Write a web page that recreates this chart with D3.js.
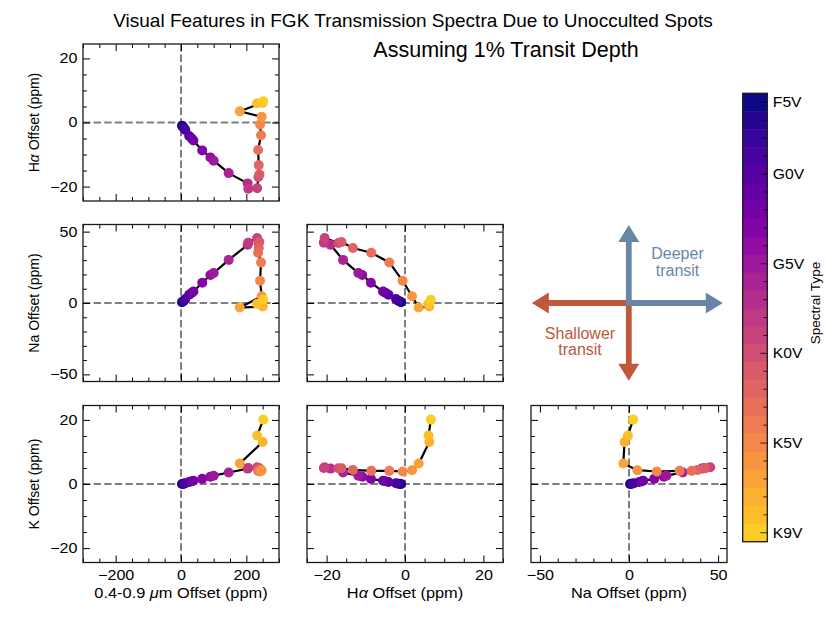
<!DOCTYPE html>
<html>
<head>
<meta charset="utf-8">
<script src="https://cdn.jsdelivr.net/npm/d3@7"></script>
<style>
  body { margin: 0; background: #fff; }
  text { font-family: "Liberation Sans", Arial, Helvetica, sans-serif; }
</style>
</head>
<body>
<svg width="830" height="625"></svg>
<script>
// one entry per spectral type, F5V (index 0) to K9V (index 24)
var typeIndex = d3.range(25);
var cbarTicks = [0, 4, 9, 14, 19, 24];
var cbarLabels = ['F5V', 'G0V', 'G5V', 'K0V', 'K5V', 'K9V'];

// offsets in ppm
var broad = [3, 6, 9, 13, 25, 33, 38, 65, 90, 100, 146, 204, 206, 233, 237, 240, 238, 236, 245, 242, 247, 180, 250, 233, 252];
var halpha = [-1.0, -1.3, -1.7, -2.3, -4.2, -5.0, -5.6, -8.7, -10.9, -11.9, -15.8, -19.0, -20.7, -20.5, -17.0, -16.2, -13.3, -8.6, -4.0, -0.6, 1.8, 3.5, 6.2, 6.0, 6.6];
var sodium = [0.6, 1.0, 1.6, 2.8, 5.8, 7.2, 8.0, 14.2, 19.6, 21.0, 30.2, 40.8, 42.3, 45.6, 42.0, 42.8, 38.5, 35.2, 28.4, 15.6, 4.7, -3.2, -2.5, -0.6, 2.3];
var potassium = [0.0, 0.05, 0.1, 0.25, 0.6, 0.85, 1.0, 1.6, 2.3, 2.6, 3.6, 4.8, 5.0, 5.2, 4.9, 4.9, 4.4, 4.1, 4.1, 3.9, 4.3, 6.4, 13.1, 15.1, 20.1];

var series = { broad: broad, halpha: halpha, sodium: sodium, potassium: potassium };

var axisInfo = {
    broad:     { xdom: [-300, 300], major: 200, minor: 50, label: [['0.4-0.9 ', ''], ['\u03bc', 'i'], ['m Offset (ppm)', '']] },
    halpha:    { xdom: [-25, 25], ydom: [-24.5, 24.5], major: 20, minor: 5, label: [['H', ''], ['\u03b1', 'i'], [' Offset (ppm)', '']] },
    sodium:    { xdom: [-55, 55], ydom: [-55, 55], major: 50, minor: 10, label: [['Na Offset (ppm)', '']] },
    potassium: { ydom: [-24.5, 24.5], major: 20, minor: 5, label: [['K Offset (ppm)', '']] }
};

var panels = [
    { row: 0, col: 0, x: 'broad', y: 'halpha' },
    { row: 1, col: 0, x: 'broad', y: 'sodium' },
    { row: 1, col: 1, x: 'halpha', y: 'sodium' },
    { row: 2, col: 0, x: 'broad', y: 'potassium' },
    { row: 2, col: 1, x: 'halpha', y: 'potassium' },
    { row: 2, col: 2, x: 'sodium', y: 'potassium' }
];

var svg = d3.select('svg');
var colLeft = [83, 307, 531],
    rowTop = [44, 224.5, 405.5],
    pw = 196,
    ph = 157,
    sx = 1.15;   // horizontal text stretch seen in the reference

var color = d3.scaleSequential(function(t) { return d3.interpolatePlasma(t * 0.9); })
    .domain([0, 24]);

function ticksBetween(dom, step) {
    var out = [];
    for (var v = Math.ceil(dom[0] / step) * step; v <= dom[1] + 1e-9; v += step) out.push(v);
    return out;
}

function addLabel(sel, parts) {
    parts.forEach(function(p) {
        sel.append('tspan').text(p[0]).style('font-style', p[1] === 'i' ? 'italic' : 'normal');
    });
}

panels.forEach(function(p) {
    var xi = axisInfo[p.x], yi = axisInfo[p.y];
    var x = d3.scaleLinear().domain(xi.xdom).range([0, pw]);
    var y = d3.scaleLinear().domain(yi.ydom).range([ph, 0]);
    var g = svg.append('g').attr('transform', 'translate(' + colLeft[p.col] + ',' + rowTop[p.row] + ')');

    // zero lines
    g.append('line').attr('x1', x(0)).attr('x2', x(0)).attr('y1', 0).attr('y2', ph)
        .attr('stroke', '#7f7f7f').attr('stroke-width', 2).attr('stroke-dasharray', '7.4,3.2');
    g.append('line').attr('x1', 0).attr('x2', pw).attr('y1', y(0)).attr('y2', y(0))
        .attr('stroke', '#7f7f7f').attr('stroke-width', 2).attr('stroke-dasharray', '7.4,3.2');

    var xs = series[p.x], ys = series[p.y];
    var line = d3.line().x(function(i) { return x(xs[i]); }).y(function(i) { return y(ys[i]); });
    g.append('path').datum(typeIndex).attr('d', line)
        .attr('fill', 'none').attr('stroke', '#000').attr('stroke-width', 2.2);
    g.selectAll('circle').data(typeIndex).enter().append('circle')
        .attr('cx', function(i) { return x(xs[i]); })
        .attr('cy', function(i) { return y(ys[i]); })
        .attr('r', 5)
        .attr('fill', function(i) { return color(i); });

    // ticks, pointing inward on all four sides
    var xMaj = ticksBetween(xi.xdom, xi.major), xMin = ticksBetween(xi.xdom, xi.minor);
    var yMaj = ticksBetween(yi.ydom, yi.major), yMin = ticksBetween(yi.ydom, yi.minor);
    var fmt = d3.format('d');

    var sides = [
        { axis: d3.axisBottom(x), tr: [0, ph], vals: [xMaj, xMin], lab: p.row === 2 },
        { axis: d3.axisTop(x), tr: [0, 0], vals: [xMaj, xMin], lab: false },
        { axis: d3.axisLeft(y), tr: [0, 0], vals: [yMaj, yMin], lab: p.col === 0 },
        { axis: d3.axisRight(y), tr: [pw, 0], vals: [yMaj, yMin], lab: false }
    ];
    sides.forEach(function(s, k) {
        var minorOnly = s.vals[1].filter(function(v) { return s.vals[0].indexOf(v) < 0; });
        var a = g.append('g').attr('transform', 'translate(' + s.tr[0] + ',' + s.tr[1] + ')')
            .call(s.axis.tickValues(s.vals[0]).tickSizeInner(-7).tickSizeOuter(0)
                .tickPadding(k === 0 ? 7.5 : 5.5)
                .tickFormat(s.lab ? fmt : ''));
        a.select('.domain').remove();
        a.selectAll('line').attr('stroke', '#000').attr('stroke-width', 1);
        a.selectAll('text').style('font-size', '14px').attr('fill', '#000')
            .style('font-family', '"Liberation Sans", Arial, sans-serif')
            .attr('transform', 'scale(' + sx + ',1)');
        if (k === 2) a.selectAll('text').attr('x', -5.5 / sx);
        var b = g.append('g').attr('transform', 'translate(' + s.tr[0] + ',' + s.tr[1] + ')')
            .call(s.axis.tickValues(minorOnly).tickSizeInner(-4).tickFormat(''));
        b.select('.domain').remove();
        b.selectAll('line').attr('stroke', '#000').attr('stroke-width', 1);
    });

    g.append('rect').attr('width', pw).attr('height', ph)
        .attr('fill', 'none').attr('stroke', '#1a1a1a').attr('stroke-width', 1.3);

    if (p.row === 2) {
        var t = g.append('text')
            .attr('transform', 'translate(' + (pw / 2) + ',' + (598 - rowTop[2]) + ') scale(1.17,1)')
            .attr('text-anchor', 'middle').style('font-size', '14px');
        addLabel(t, xi.label);
    }
    if (p.col === 0) {
        var t2 = g.append('text')
            .attr('transform', 'translate(' + (39 - colLeft[0]) + ',' + (ph / 2) + ') rotate(-90)')
            .attr('text-anchor', 'middle').style('font-size', '14px');
        addLabel(t2, yi.label);
    }
});

// colour bar
var cb = { x: 742.7, y0: 93.3, y1: 541.7, w: 24.6 };
var band = d3.scaleBand().domain(typeIndex).range([cb.y0, cb.y1]);
svg.append('g').selectAll('rect').data(typeIndex).enter().append('rect')
    .attr('x', cb.x).attr('width', cb.w)
    .attr('y', function(i) { return band(i); })
    .attr('height', band.bandwidth() + 0.5)
    .attr('fill', function(i) { return color(i); });
svg.append('g').selectAll('line').data(typeIndex).enter().append('line')
    .attr('x1', function(i) { return cb.x + cb.w - (cbarTicks.indexOf(i) >= 0 ? 7 : 4); })
    .attr('x2', cb.x + cb.w)
    .attr('y1', function(i) { return band(i) + band.bandwidth() / 2; })
    .attr('y2', function(i) { return band(i) + band.bandwidth() / 2; })
    .attr('stroke', '#000').attr('stroke-width', 1).attr('stroke-opacity', 0.75);
svg.append('rect').attr('x', cb.x).attr('y', cb.y0).attr('width', cb.w).attr('height', cb.y1 - cb.y0)
    .attr('fill', 'none').attr('stroke', '#1a1a1a').attr('stroke-width', 1.3);
svg.append('g').selectAll('text').data(cbarTicks).enter().append('text')
    .attr('transform', function(i) {
        return 'translate(' + (cb.x + cb.w + 5.5) + ',' + (band(i) + band.bandwidth() / 2) + ') scale(1.12,1)';
    })
    .attr('dy', '0.36em')
    .style('font-size', '14px')
    .text(function(i, k) { return cbarLabels[k]; });
svg.append('text').attr('transform', 'translate(820,303) rotate(-90)')
    .attr('text-anchor', 'middle').style('font-size', '13.5px').text('Spectral Type');

// direction key
var centre = [628.8, 303];
var arrows = [
    { dx: -1, dy: 0, len: 97, col: '#c0583a' },
    { dx: 0, dy: 1, len: 77.7, col: '#c0583a' },
    { dx: 0, dy: -1, len: 78, col: '#6886a6' },
    { dx: 1, dy: 0, len: 94, col: '#6886a6' }
];
arrows.forEach(function(a) {
    var sw = 2.9, hw = 10.5, hl = 17, back = 2.9;
    var pts = [[-back, -sw], [a.len - hl, -sw], [a.len - hl, -hw], [a.len, 0], [a.len - hl, hw], [a.len - hl, sw], [-back, sw]];
    var ang = Math.atan2(a.dy, a.dx) * 180 / Math.PI;
    svg.append('path')
        .attr('d', d3.line()(pts) + 'Z')
        .attr('transform', 'translate(' + centre[0] + ',' + centre[1] + ') rotate(' + ang + ')')
        .attr('fill', a.col);
});
var keyText = [
    { x: 677.5, y: 259, t: 'Deeper', col: '#6886a6' },
    { x: 677.5, y: 276, t: 'transit', col: '#6886a6' },
    { x: 580, y: 339, t: 'Shallower', col: '#c0583a' },
    { x: 580, y: 355, t: 'transit', col: '#c0583a' }
];
svg.append('g').selectAll('text').data(keyText).enter().append('text')
    .attr('x', function(d) { return d.x; }).attr('y', function(d) { return d.y; })
    .attr('text-anchor', 'middle').attr('fill', function(d) { return d.col; })
    .style('font-size', '16px').text(function(d) { return d.t; });

// title
svg.append('text').attr('x', 413).attr('y', 27).attr('text-anchor', 'middle')
    .style('font-size', '19px').text('Visual Features in FGK Transmission Spectra Due to Unocculted Spots');
svg.append('text').attr('x', 506).attr('y', 57).attr('text-anchor', 'middle')
    .style('font-size', '21.5px').text('Assuming 1% Transit Depth');
</script>
</body>
</html>
